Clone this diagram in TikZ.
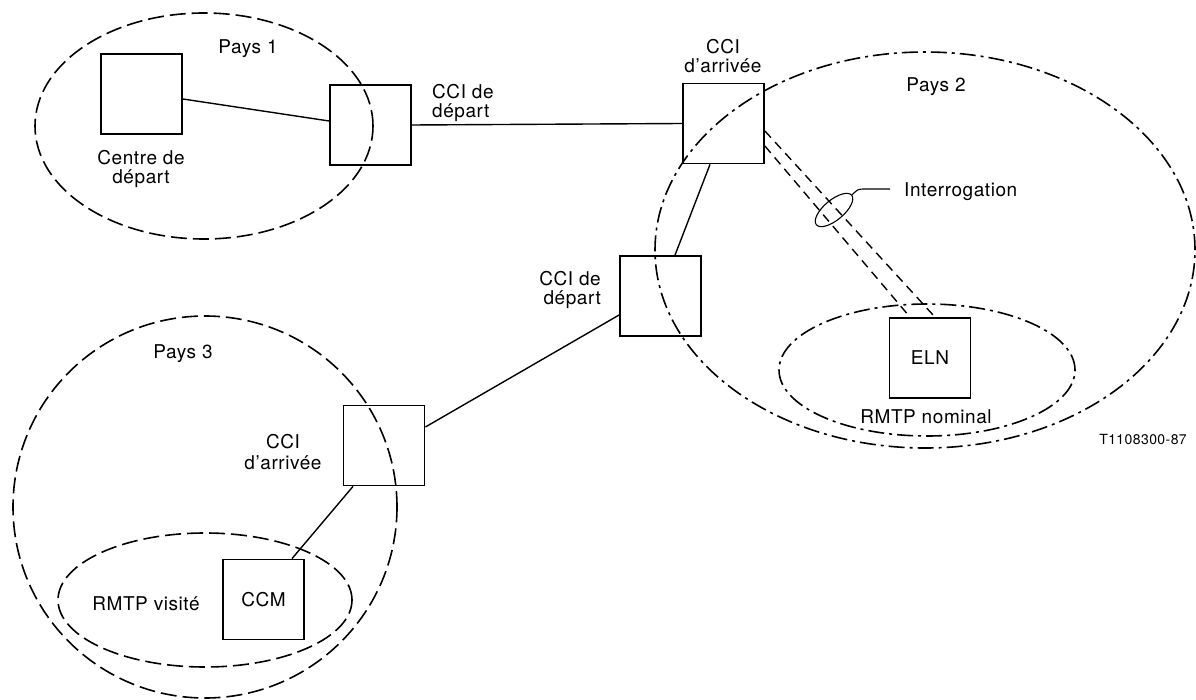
\documentclass[tikz,border=0pt]{standalone}
\usepackage{fontspec}
\setmainfont[LetterSpace=3]{TeX Gyre Heros}
\usetikzlibrary{shapes.geometric}
\begin{document}
\begin{tikzpicture}[x=1pt,y=-1pt,
  txt/.style={inner sep=0pt,font=\fontsize{19}{19.5}\selectfont},
  box/.style={draw,line width=1.8pt,minimum width=81pt,minimum height=80pt,inner sep=0pt,font=\fontsize{19}{20}\selectfont},
  conn/.style={line width=1.4pt},
  dconn/.style={line width=1.4pt,dash pattern=on 9pt off 6pt},
  zdash/.style={line width=1.6pt,dash pattern=on 16pt off 6pt},
  zdashdot/.style={line width=1.6pt,dash pattern=on 16pt off 5pt on 3pt off 5pt}]
\useasboundingbox (0,0) rectangle (1196,700);

% zones
\draw[zdash] (204,126) ellipse [x radius=169pt, y radius=113pt];
\draw[zdashdot] (925,250) ellipse [x radius=270pt, y radius=198pt];
\draw[zdash] (205,507) ellipse [x radius=192pt, y radius=191pt];
\draw[zdashdot] (927,370) ellipse [x radius=148pt, y radius=66pt];
\draw[zdash] (205,600) ellipse [x radius=147pt, y radius=67pt];

% boxes
\node[box] (c) at (141.5,94) {};
\node[box] (cci1) at (370.5,125) {};
\node[box] (cci2) at (723.5,123.5) {};
\node[box] (cci3) at (660.5,296) {};
\node[box] (cci4) at (384,445.5) {};
\node[box] (ccm) at (263.5,599.5) {CCM};
\node[box] (eln) at (930,358) {ELN};

% connectors
\draw[conn] ([yshift=-5pt]c.east) -- ([yshift=4pt]cci1.west);
\draw[conn] (cci1.east) -- (cci2.west);
\draw[conn] ([xshift=-13.5pt]cci2.south) -- ([xshift=14.5pt]cci3.north);
\draw[conn] ([yshift=-19pt]cci3.west) -- ([yshift=18.5pt]cci4.east);
\draw[conn] ([xshift=-31pt]cci4.south) -- ([xshift=28.5pt]ccm.north);
\draw[dconn] ([yshift=-7.5pt]cci2.east) -- ([xshift=5pt]eln.north);
\draw[dconn] ([yshift=-22.5pt]cci2.east) -- ([xshift=-20pt]eln.north);

% interrogation marker
\node[draw,ellipse,line width=1.1pt,minimum width=46pt,minimum height=20pt,inner sep=0pt,rotate=40] (irq) at (834,210) {};
\node[txt,anchor=base west] (intr) at (904,197) {Interrogation};
\coordinate (lead) at (890,189);
\draw[line width=1.1pt] (irq.east) .. controls (858,189) .. (866,189) -- (lead);

% labels
\node[txt,anchor=north] (p1) at (248,39) {Pays 1};
\node[txt,anchor=north,align=center] (lc) at (141,150) {Centre de\\départ};
\node[txt,anchor=north west,align=left] (l1) at (432,84) {CCI de\\départ};
\node[txt,anchor=north,align=center] (l2) at (723,39) {CCI\\d’arrivée};
\node[txt,anchor=north] (p2) at (936,77) {Pays 2};
\node[txt,anchor=north east,align=right] (l3) at (601,271) {CCI de\\départ};
\node[txt,anchor=base] (p3) at (183,358) {Pays 3};
\node[txt,anchor=north,align=center,font=\fontsize{19}{21}\selectfont] (l4) at (283,434) {CCI\\d’arrivée};
\node[txt,anchor=base] (rv) at (146,610) {RMTP visité};
\node[txt,anchor=base] (rn) at (926,423) {RMTP nominal};
\node[inner sep=0pt,font=\fontsize{14}{14}\selectfont] (ref) at (1143,440) {T1108300-87};
\end{tikzpicture}
\end{document}
